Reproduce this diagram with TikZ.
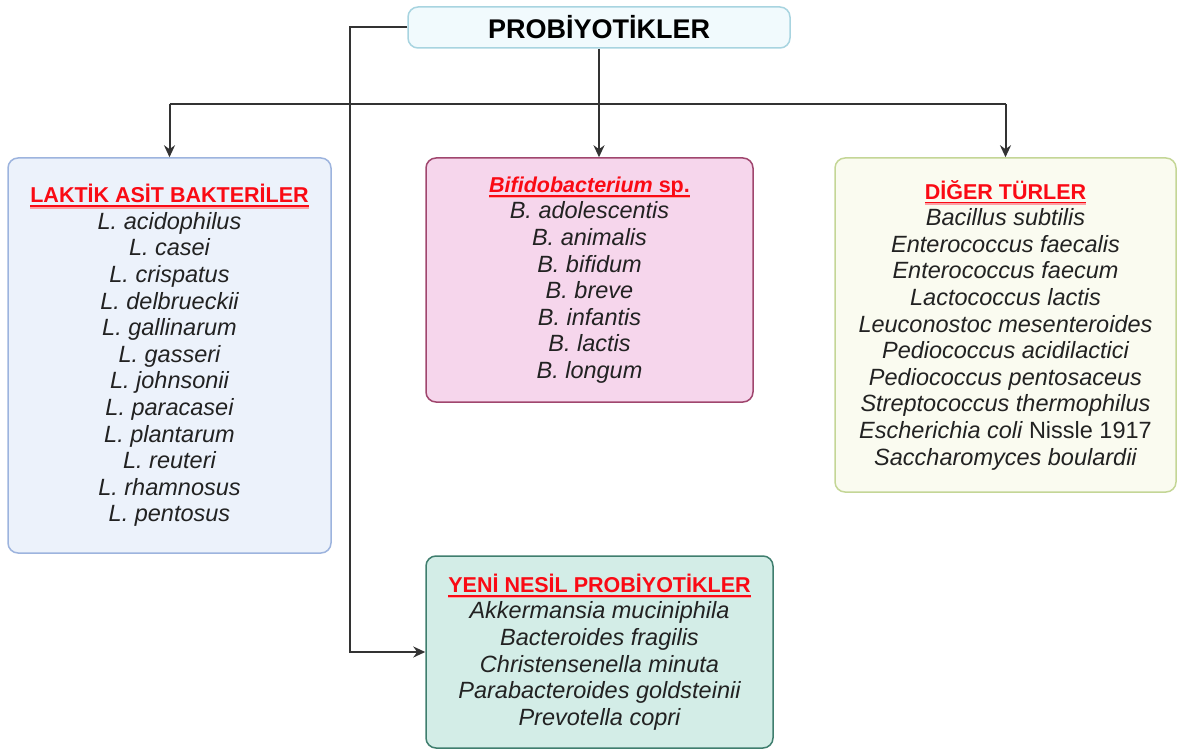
\documentclass[tikz,border=0pt]{standalone}
\usepackage{fontspec}
\setmainfont{Liberation Sans}
\usetikzlibrary{arrows.meta,positioning}
\definecolor{titlefill}{RGB}{241,250,253}
\definecolor{titleline}{RGB}{168,212,224}
\definecolor{labfill}{RGB}{236,242,251}
\definecolor{labline}{RGB}{157,180,222}
\definecolor{bififill}{RGB}{246,214,236}
\definecolor{bifiline}{RGB}{160,70,110}
\definecolor{digerfill}{RGB}{250,251,240}
\definecolor{digerline}{RGB}{196,214,150}
\definecolor{yenifill}{RGB}{211,237,231}
\definecolor{yeniline}{RGB}{63,126,110}
\definecolor{headred}{RGB}{250,10,20}
\definecolor{headpale}{RGB}{252,160,165}
\definecolor{inkgray}{RGB}{34,34,34}
\definecolor{wiregray}{RGB}{51,51,51}
% red underlined box heading
\newcommand\redhead[1]{\begingroup\fontsize{21.5}{26.6}\selectfont\upshape\bfseries\color{headred}%
 \setbox0\hbox{#1}\rlap{\textcolor{headpale}{\rule[-6pt]{\wd0}{1.6pt}}}\rlap{\rule[-4.4pt]{\wd0}{1.8pt}}\box0\endgroup}
\begin{document}
\begin{tikzpicture}[x=1pt,y=-1pt,>={Stealth[length=12pt,width=11pt]},
 box/.style={draw,line width=1.5pt,rounded corners=10pt,align=center,text=inkgray,
  font=\fontsize{23.5}{26.6}\selectfont\itshape,inner sep=0pt},
 wire/.style={draw=wiregray,line width=2pt}]
\useasboundingbox (0,0) rectangle (1177,751);
% kutular, merkezler piksel koordinatlarinda
\node[box,fill=titlefill,draw=titleline,minimum width=382pt,minimum height=41pt,
 font=\fontsize{27}{30}\selectfont\bfseries,text=black] (title) at (599,27.5) {PROBİYOTİKLER};
\node[box,fill=labfill,draw=labline,minimum width=323pt,minimum height=395pt] (lab) at (169.5,355.5)
 {\redhead{LAKTİK ASİT BAKTERİLER}\\ L. acidophilus\\ L. casei\\ L. crispatus\\ L. delbrueckii\\
  L. gallinarum\\ L. gasseri\\ L. johnsonii\\ L. paracasei\\ L. plantarum\\ L. reuteri\\
  L. rhamnosus\\ L. pentosus};
\node[box,fill=bififill,draw=bifiline,minimum width=327pt,minimum height=244pt] (bifi) at (589.5,280)
 {\redhead{\itshape Bifidobacterium \upshape sp.}\\ B. adolescentis\\ B. animalis\\ B. bifidum\\
  B. breve\\ B. infantis\\ B. lactis\\ B. longum};
\node[box,fill=digerfill,draw=digerline,minimum width=341pt,minimum height=334pt] (diger) at (1005.5,325)
 {\redhead{DİĞER TÜRLER}\\ Bacillus subtilis\\ Enterococcus faecalis\\ Enterococcus faecum\\
  Lactococcus lactis\\ Leuconostoc mesenteroides\\ Pediococcus acidilactici\\
  Pediococcus pentosaceus\\ Streptococcus thermophilus\\ Escherichia coli {\upshape Nissle 1917}\\
  Saccharomyces boulardii};
\node[box,fill=yenifill,draw=yeniline,minimum width=347pt,minimum height=192pt] (yeni) at (599.5,652)
 {\redhead{YENİ NESİL PROBİYOTİKLER}\\ Akkermansia muciniphila\\ Bacteroides fragilis\\
  Christensenella minuta\\ Parabacteroides goldsteinii\\ Prevotella copri};
% baglantilar
\coordinate (split) at (599,104);
\coordinate (bend) at (350,104);
\draw[wire] (title.south) -- (split);
\draw[wire] (lab.north |- split) -- (diger.north |- split);
\draw[wire,->] (lab.north |- split) -- (lab.north);
\draw[wire,->] (split) -- (bifi.north -| split);
\draw[wire,->] (diger.north |- split) -- (diger.north);
\draw[wire,->] (title.west) -| (bend) |- (yeni.west);
\end{tikzpicture}
\end{document}
